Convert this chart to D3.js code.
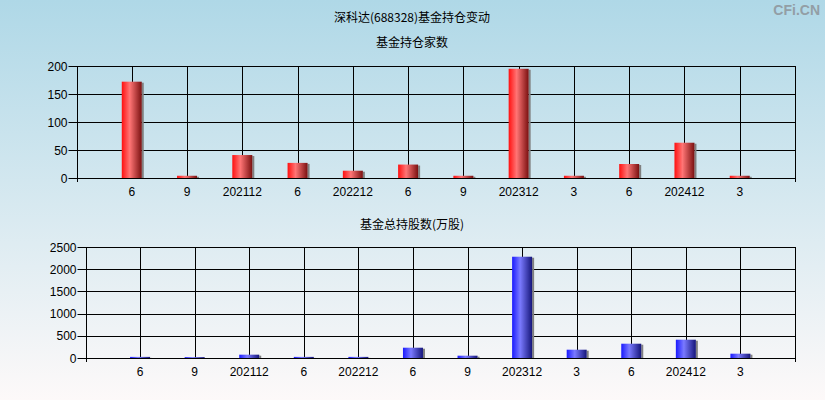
<!DOCTYPE html>
<html><head><meta charset="utf-8">
<script src="https://cdn.jsdelivr.net/npm/d3@7"></script>
<style>body{margin:0;padding:0;overflow:hidden}svg{display:block}</style>
</head><body>
<script>
const categories = ["6","9","202112","6","202212","6","9","202312","3","6","202412","3"];
const fundCount = [172, 4, 41, 27, 13, 24, 4, 195, 4, 25, 63, 4];
const fundShares = [25, 20, 75, 25, 25, 232, 52, 2281, 187, 322, 412, 97];
const countTicks = [0, 50, 100, 150, 200];
const shareTicks = [0, 500, 1000, 1500, 2000, 2500];

const W = 825, H = 400;
const svg = d3.select("body").append("svg").attr("width", W).attr("height", H);
const defs = svg.append("defs");
const bg = defs.append("linearGradient").attr("id","bg").attr("x1",0).attr("y1",0).attr("x2",0).attr("y2",1);
bg.append("stop").attr("offset","0%").attr("stop-color","#afd8e7");
bg.append("stop").attr("offset","100%").attr("stop-color","#fdf9f9");
svg.append("rect").attr("width",W).attr("height",H).attr("fill","url(#bg)");

function barGrad(id, c0, c1, c2){
  const g = defs.append("linearGradient").attr("id",id).attr("x1",0).attr("y1",0).attr("x2",1).attr("y2",0);
  g.append("stop").attr("offset","0%").attr("stop-color",c0);
  g.append("stop").attr("offset","40%").attr("stop-color",c1);
  g.append("stop").attr("offset","100%").attr("stop-color",c2);
}
barGrad("red","#ff1010","#ff7575","#7a1010");
barGrad("blue","#1a1aff","#7a7aff","#15157a");

const cjk = "'Noto Sans CJK SC', sans-serif";
const num = "'Liberation Sans', Arial, sans-serif";

svg.append("text").attr("x",412).attr("y",22).attr("text-anchor","middle")
  .style("font-family",cjk).style("font-size","12px").attr("fill","#000").text("深科达(688328)基金持仓变动");
svg.append("text").attr("x",820).attr("y",15).attr("text-anchor","end")
  .style("font-family",num).style("font-size","14px").style("font-weight","bold").attr("fill","#939ea5").text("CFi.CN");

function panel(cfg){
  const {x0,x1,yT,yB,values,ticks,max,grad,title,titleY} = cfg;
  const g = svg.append("g");
  g.append("text").attr("x",412).attr("y",titleY).attr("text-anchor","middle")
    .style("font-family",cjk).style("font-size","12px").attr("fill","#000").text(title);
  const x = d3.scalePoint().domain(d3.range(categories.length)).range([x0,x1]).padding(1);
  const y = d3.scaleLinear().domain([0,max]).range([yB,yT]);
  g.selectAll(".hg").data(ticks).join("line")
    .attr("x1",x0-8).attr("x2",x1).attr("y1",d=>Math.round(y(d))+0.5).attr("y2",d=>Math.round(y(d))+0.5)
    .attr("stroke","#000").attr("stroke-width",1);
  g.selectAll(".yl").data(ticks).join("text")
    .attr("x",x0-9).attr("y",d=>y(d)+4.5).attr("text-anchor","end")
    .style("font-family",num).style("font-size","12px").attr("fill","#000").text(d=>d);
  g.selectAll(".vg").data(d3.range(categories.length)).join("line")
    .attr("x1",d=>Math.round(x(d))+0.5).attr("x2",d=>Math.round(x(d))+0.5).attr("y1",yT).attr("y2",yB)
    .attr("stroke","#000").attr("stroke-width",1);
  g.append("line").attr("x1",Math.round(x0)+0.5).attr("x2",Math.round(x0)+0.5).attr("y1",yT).attr("y2",yB+4).attr("stroke","#000");
  g.append("line").attr("x1",Math.round(x1)+0.5).attr("x2",Math.round(x1)+0.5).attr("y1",yT).attr("y2",yB+4).attr("stroke","#000");
  const bw = 20;
  g.selectAll(".sh").data(values).join("rect")
    .attr("x",(d,i)=>x(i)-bw/2+bw).attr("y",d=>y(d)+1).attr("width",2).attr("height",d=>Math.max(0,yB-y(d)-1))
    .attr("fill","#808080");
  g.selectAll(".bar").data(values).join("rect")
    .attr("x",(d,i)=>x(i)-bw/2).attr("y",d=>y(d)).attr("width",bw).attr("height",d=>yB-y(d))
    .attr("fill",`url(#${grad})`);
  g.selectAll(".xl").data(categories).join("text")
    .attr("x",(d,i)=>x(i)).attr("y",yB+18).attr("text-anchor","middle")
    .style("font-family",num).style("font-size","12px").attr("fill","#000").text(d=>d);
}

panel({x0:76.5,x1:795,yT:66,yB:178,values:fundCount,ticks:countTicks,max:200,grad:"red",title:"基金持仓家数",titleY:47});
panel({x0:85.5,x1:795,yT:247,yB:358,values:fundShares,ticks:shareTicks,max:2500,grad:"blue",title:"基金总持股数(万股)",titleY:229});
</script>
</body></html>
